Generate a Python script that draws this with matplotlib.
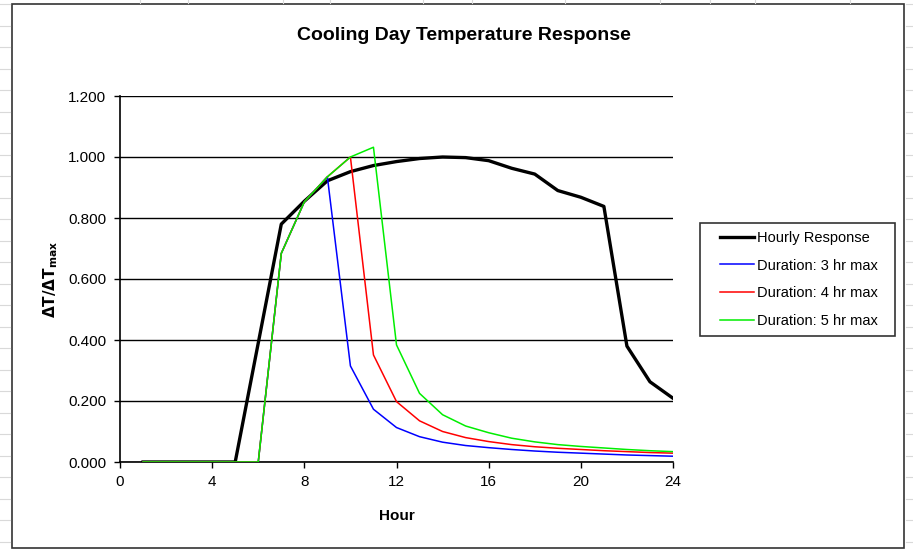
import matplotlib
matplotlib.use("Agg")
import numpy as np
import matplotlib.pyplot as plt
from matplotlib.lines import Line2D
from matplotlib.patches import Rectangle
from matplotlib.legend_handler import HandlerLine2D

plt.rcParams['font.family'] = ['Liberation Sans', 'DejaVu Sans']

hours = list(range(1, 25))
hourly = [0, 0, 0, 0, 0, 0.39, 0.78, 0.855, 0.922, 0.952, 0.972, 0.985,
          0.995, 1.0, 0.998, 0.988, 0.963, 0.944, 0.89, 0.868, 0.838,
          0.38, 0.263, 0.209]
dur3 = [0, 0, 0, 0, 0, 0, 0.684, 0.853, 0.935, 0.315, 0.173, 0.113,
        0.083, 0.065, 0.054, 0.047, 0.041, 0.036, 0.032, 0.029, 0.026,
        0.023, 0.021, 0.019]
dur4 = [0, 0, 0, 0, 0, 0, 0.684, 0.853, 0.935, 1.0, 0.351, 0.198,
        0.135, 0.100, 0.080, 0.067, 0.057, 0.050, 0.045, 0.041, 0.037,
        0.034, 0.031, 0.029]
dur5 = [0, 0, 0, 0, 0, 0, 0.684, 0.853, 0.935, 1.0, 1.032, 0.384,
        0.225, 0.155, 0.118, 0.096, 0.078, 0.066, 0.057, 0.051, 0.046,
        0.041, 0.037, 0.034]
labels = ["Hourly Response", "Duration: 3 hr max", "Duration: 4 hr max", "Duration: 5 hr max"]
xticks = [0, 4, 8, 12, 16, 20, 24]
yticks = [0.0, 0.2, 0.4, 0.6, 0.8, 1.0, 1.2]


class RightLine(HandlerLine2D):
    """Draw the legend line only over the right part of the handle box."""
    def create_artists(self, legend, orig_handle, xdescent, ydescent, width, height, fontsize, trans):
        arts = super().create_artists(legend, orig_handle, xdescent, ydescent, width, height, fontsize, trans)
        x0 = -xdescent
        for a in arts:
            xd = np.asarray(a.get_xdata())
            if len(xd) > 1:
                a.set_xdata(np.linspace(x0 + width * 0.27, x0 + width, len(xd)))
        return arts


W, H = 913, 552
fig = plt.figure(figsize=(W / 100, H / 100), dpi=100)
fig.patch.set_facecolor('white')

# spreadsheet background lines outside chart
for i in range(0, 27):
    yy = 1 - (4 + 21.5 * i) / H
    if 0 < yy < 1:
        fig.add_artist(Line2D([0, 10 / W], [yy, yy], color='#d9d9d9', lw=0.8, transform=fig.transFigure))
        fig.add_artist(Line2D([906 / W, 1], [yy, yy], color='#d9d9d9', lw=0.8, transform=fig.transFigure))
for xx in [140, 188, 283, 330, 423, 472, 565, 660, 710, 755, 850]:
    fig.add_artist(Line2D([xx / W, xx / W], [1 - 3 / H, 1], color='#d9d9d9', lw=0.8, transform=fig.transFigure))

# chart border
fig.add_artist(Rectangle((12 / W, 1 - 548 / H), (904 - 12) / W, (548 - 4) / H,
                         transform=fig.transFigure, fill=False, edgecolor='#333333', lw=1.2))

ax = fig.add_axes([120 / W, 1 - 462 / H, 553 / W, 366 / H])
ax.plot(hours, hourly, color='black', lw=2.4, label=labels[0], zorder=3)
ax.plot(hours, dur3, color='#0000ff', lw=1.1, label=labels[1], zorder=4)
ax.plot(hours, dur4, color='#ff0000', lw=1.1, label=labels[2], zorder=5)
ax.plot(hours, dur5, color='#00ee00', lw=1.1, label=labels[3], zorder=6)

ax.set_xlim(0, 24)
ax.set_ylim(0, 1.2)
ax.set_xticks(xticks)
ax.set_yticks(yticks)
ax.set_yticklabels([f"{v:.3f}" for v in yticks])
ax.grid(axis='y', color='black', lw=1.0)
ax.set_axisbelow(True)
for s in ['top', 'right']:
    ax.spines[s].set_visible(False)
for s in ['left', 'bottom']:
    ax.spines[s].set_linewidth(1.2)
ax.tick_params(axis='both', direction='out', length=4, width=1.0, labelsize=11, colors='black')
ax.tick_params(axis='y', pad=6)
ax.tick_params(axis='x', pad=5)
ax.set_xlabel("Hour", fontsize=11, fontweight='bold', labelpad=15)
ax.set_ylabel(r"$\mathbf{\Delta T/\Delta T_{max}}$", fontsize=11, labelpad=6)
fig.text(464 / W, 1 - 35 / H, "Cooling Day Temperature Response", fontsize=14,
         fontweight='bold', ha='center', va='center')

leg = ax.legend(loc='center left', bbox_to_anchor=(700 / W, 1 - 335 / H, 195 / W, 111 / H),
                bbox_transform=fig.transFigure, mode='expand', frameon=True, fancybox=False,
                edgecolor='black', fontsize=10.5, handlelength=3.2, handletextpad=0.2,
                borderpad=0.5, labelspacing=0.95, borderaxespad=0,
                handler_map={Line2D: RightLine()})
leg.get_frame().set_linewidth(1.2)

fig.savefig("out.png", dpi=100)
